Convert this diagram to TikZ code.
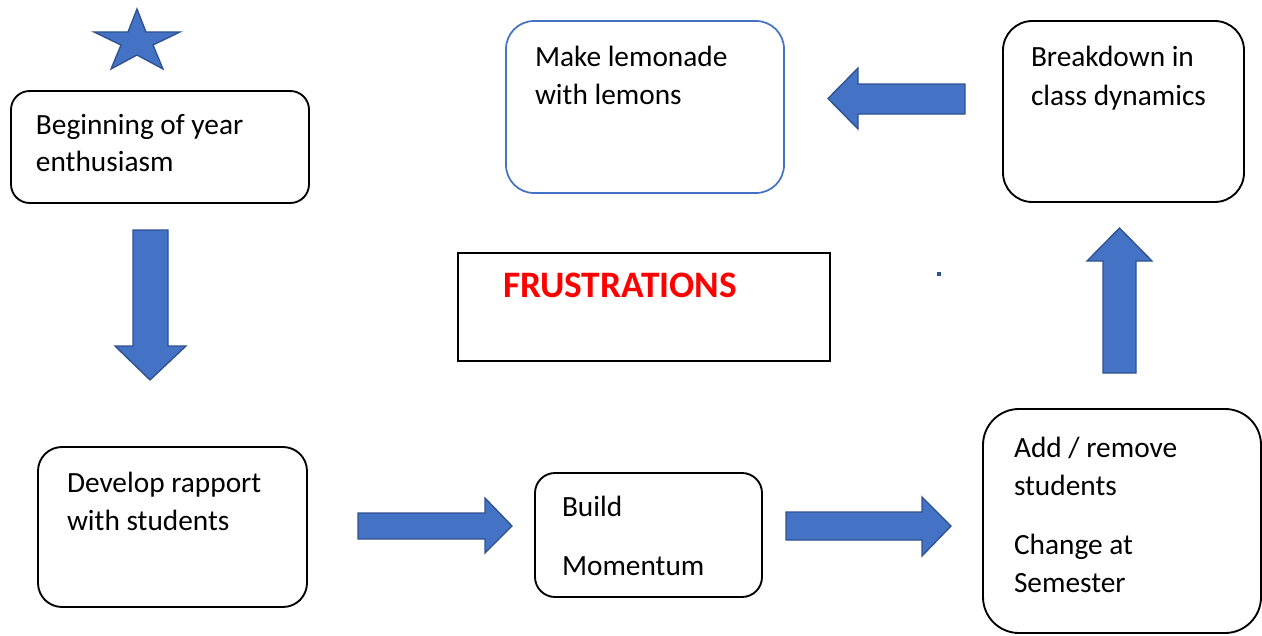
\documentclass[tikz,border=0pt]{standalone}
\usepackage{fontspec}
\setmainfont{Carlito}
\definecolor{fillblue}{HTML}{4472C4}
\definecolor{edgeblue}{HTML}{2F528F}
\definecolor{frustred}{HTML}{FF0000}
\begin{document}
\begin{tikzpicture}[x=0.75pt,y=-0.75pt,
  box/.style={draw=black, line width=1.4pt, rounded corners=#1, inner sep=0pt, outer sep=0pt},
  bluebox/.style={draw=fillblue, line width=1.3pt, rounded corners=#1, inner sep=0pt, outer sep=0pt},
  plainbox/.style={draw=black, line width=1.4pt, inner sep=0pt, outer sep=0pt},
  label/.style={anchor=base west, inner sep=0pt, outer sep=0pt, font=\fontsize{22}{26}\selectfont},
  biglabel/.style={anchor=base west, inner sep=0pt, outer sep=0pt, text=frustred, font=\fontsize{28}{32}\selectfont\bfseries},
  blockarrow/.style={fill=fillblue, draw=edgeblue, line width=1pt, line join=miter}]
\useasboundingbox (0,0) rectangle (1262,635);

% star
\draw[blockarrow] (137,9) -- (146,32) -- (180,32) -- (153,45) -- (163,69) -- (137,55)
  -- (111,69) -- (121,45) -- (94,32) -- (128,32) -- cycle;

% boxes
\node[box=14pt, minimum width=223.5pt, minimum height=84pt] (start) at (160,147) {};
\node[box=18pt, minimum width=201.75pt, minimum height=120pt] (rapport) at (172.5,527) {};
\node[box=15pt, minimum width=170.25pt, minimum height=93pt] (build) at (648.5,535) {};
\node[box=27pt, minimum width=208.5pt, minimum height=168pt] (addrem) at (1122,521) {};
\node[box=22pt, minimum width=180.75pt, minimum height=135.75pt] (breakdown) at (1123.5,111.5) {};
\node[bluebox=21pt, minimum width=208.5pt, minimum height=129pt] (lemonade) at (645,107) {};
\node[plainbox, minimum width=279pt, minimum height=81pt] (frust) at (644,307) {};

% texts
\node[label] (t1a) at (36,134) {Beginning of year};
\node[label] (t1b) at (36,171) {enthusiasm};
\node[label] (t2a) at (67,492) {Develop rapport};
\node[label] (t2b) at (67,530) {with students};
\node[label] (t3a) at (562,516) {Build};
\node[label] (t3b) at (562,575) {Momentum};
\node[label] (t4a) at (1014,457) {Add / remove};
\node[label] (t4b) at (1014,495) {students};
\node[label] (t4c) at (1014,554) {Change at};
\node[label] (t4d) at (1014,592) {Semester};
\node[label] (t5a) at (1031,67) {Breakdown in};
\node[label] (t5b) at (1031,105) {class dynamics};
\node[label] (t6a) at (535,67) {Make lemonade};
\node[label] (t6b) at (535,104) {with lemons};
\node[biglabel] (t7) at (503,297) {FRUSTRATIONS};

% block arrows
\draw[blockarrow] (133,230) -- (168,230) -- (168,346) -- (186,346) -- (150,380)
  -- (115,346) -- (133,346) -- cycle;
\draw[blockarrow] (358,513) -- (485,513) -- (485,498) -- (512,526) -- (485,553)
  -- (485,539) -- (358,539) -- cycle;
\draw[blockarrow] (786,512) -- (922,512) -- (922,497) -- (951,526) -- (922,556)
  -- (922,540) -- (786,540) -- cycle;
\draw[blockarrow] (1103,373) -- (1103,261) -- (1087,261) -- (1119.5,228) -- (1152,261)
  -- (1136,261) -- (1136,373) -- cycle;
\draw[blockarrow] (965,84) -- (858,84) -- (858,68) -- (828,98.5) -- (858,129)
  -- (858,114) -- (965,114) -- cycle;

% small dot
\fill[edgeblue] (937,272) rectangle (941,276);
\end{tikzpicture}
\end{document}
